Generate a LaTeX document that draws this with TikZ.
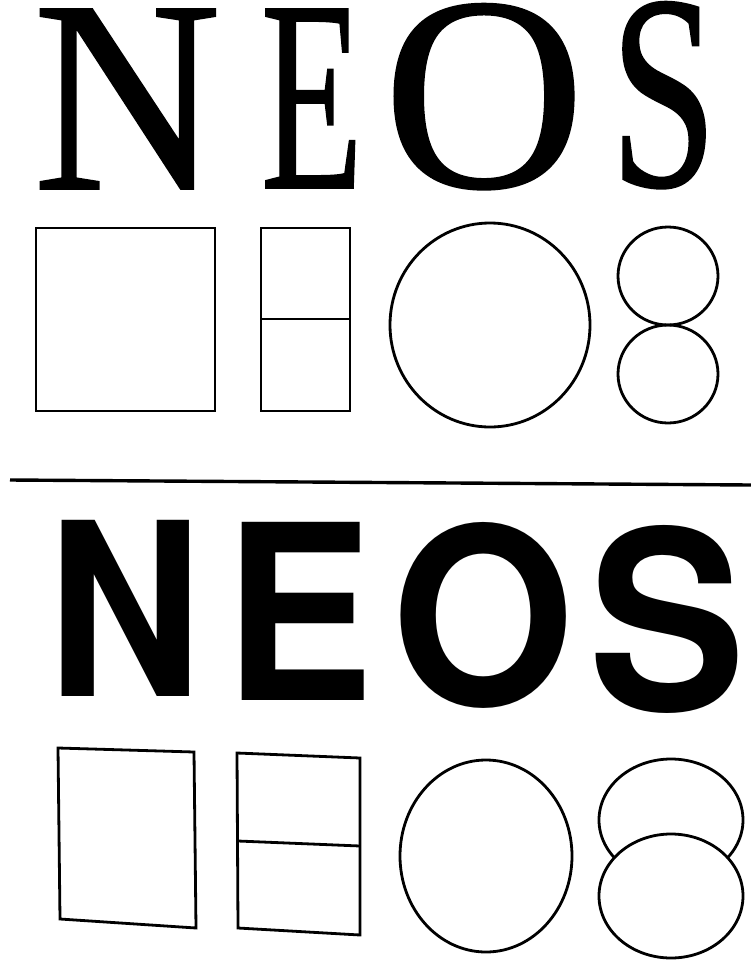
\documentclass[tikz,border=0pt]{standalone}
\usepackage{fontspec}
\newfontfamily\antiqua[FakeBold=0.7]{Liberation Serif}
\newfontfamily\grotesk{TeX Gyre Heros}
\begin{document}
\begin{tikzpicture}
  [x=1pt,y=-1pt,
   outline/.style={draw=black,line width=2.8pt},
   glyph/.style={inner sep=0pt,outer sep=0pt,anchor=base west}]
  \useasboundingbox (0,0) rectangle (751,962);

  % serif word
  \node[glyph] (sN) at (33,189) {\resizebox{188pt}{180pt}{\antiqua N}};
  \node[glyph] (sE) at (261,188) {\resizebox{102pt}{179pt}{\antiqua E}};
  \node[glyph] (sO) at (383,187) {\resizebox{202pt}{183pt}{\antiqua O}};
  \node[glyph] (sS) at (610,186) {\resizebox{107pt}{184pt}{\antiqua S}};

  % serif shapes
  \draw[outline] (36,228) rectangle (215,411);
  \draw[outline] (261,228) rectangle (350,411);
  \draw[outline] (261,319) -- (350,319);
  \draw[outline] (490,325) ellipse [x radius=100pt,y radius=102pt];
  \draw[outline] (668,276) ellipse [x radius=50pt,y radius=49pt];
  \draw[outline] (668,374) ellipse [x radius=50pt,y radius=49pt];

  % rule
  \draw[line width=3.4pt] (10,480) -- (751,485);

  % sans word
  \node[glyph] (gN) at (48,696) {\resizebox{155pt}{176pt}{\grotesk\bfseries N}};
  \node[glyph] (gE) at (224,700) {\resizebox{149pt}{178pt}{\grotesk\bfseries E}};
  \node[glyph] (gO) at (391,705) {\resizebox{183pt}{183pt}{\grotesk\bfseries O}};
  \node[glyph] (gS) at (588,710) {\resizebox{157pt}{185pt}{\grotesk\bfseries S}};

  % sans shapes
  \draw[outline] (58,748) -- (194,752) -- (196,928) -- (60,919) -- cycle;
  \draw[outline] (237,753) -- (360,758) -- (360,935) -- (238,928) -- cycle;
  \draw[outline] (238,841) -- (360,846);
  \draw[outline] (486,856) ellipse [x radius=86pt,y radius=96pt];
  \draw[outline] (671,820) ellipse [x radius=72pt,y radius=61pt];
  \draw[outline,fill=white] (671,896) ellipse [x radius=72pt,y radius=62pt];
\end{tikzpicture}
\end{document}
